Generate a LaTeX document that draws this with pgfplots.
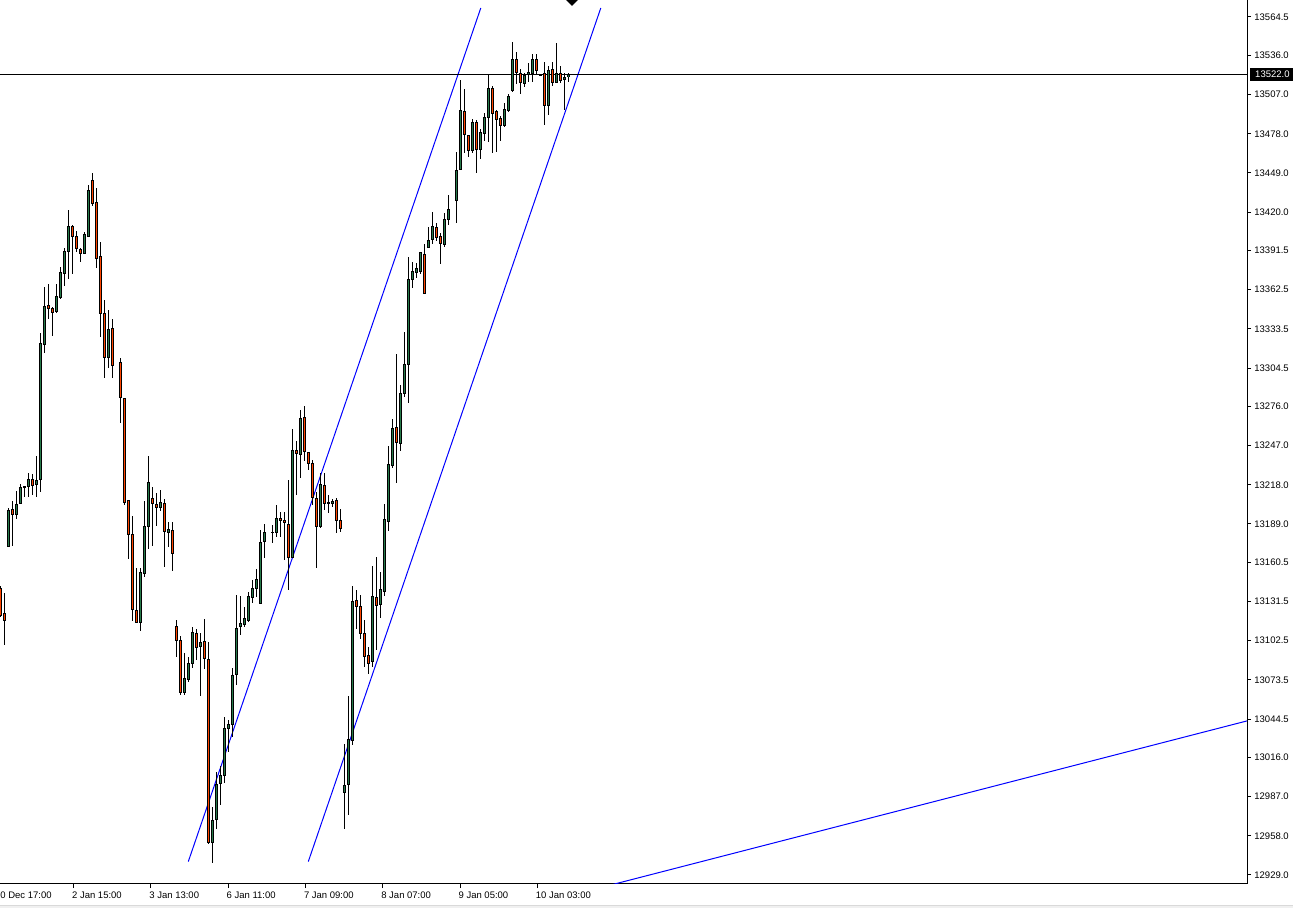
\documentclass[border=0pt]{standalone}
\usepackage{pgfplots}
\pgfplotsset{compat=1.18}
\usepackage{pgfplotstable}
\usepackage{fontspec}
\setmainfont{Liberation Sans}
\definecolor{bull}{RGB}{38,122,74}
\definecolor{bear}{RGB}{255,69,0}
\pgfplotstableread{
i o h l c
0 13141.4 13143.1 13120.2 13121.6
1 13122.4 13137.7 13099.4 13117.4
2 13172.2 13200.7 13172.2 13198.7
3 13199.4 13206.3 13172.7 13196.2
4 13196.2 13213.5 13192.5 13203.8
5 13204.4 13218.6 13204.4 13216.2
6 13215.9 13217.2 13209.2 13216.6
7 13217.2 13226.6 13208.8 13222.3
8 13222.1 13226.1 13210.3 13217.4
9 13218.4 13239.6 13208.8 13221.6
10 13222.1 13330.7 13213.0 13322.9
11 13322.1 13364.8 13315.5 13350.5
12 13350.5 13366.8 13340.6 13348.8
13 13349.0 13350.0 13328.5 13345.8
14 13346.3 13366.8 13345.1 13357.9
15 13356.9 13379.6 13355.9 13375.7
16 13374.7 13393.2 13365.5 13390.5
17 13390.7 13421.6 13370.3 13409.7
18 13409.0 13410.5 13373.9 13402.1
19 13402.3 13406.0 13390.7 13393.2
20 13392.7 13393.2 13382.8 13389.5
21 13389.5 13405.3 13388.8 13403.1
22 13402.1 13440.1 13402.1 13436.4
23 13443.8 13449.2 13424.5 13426.5
24 13427.5 13437.9 13378.8 13385.8
25 13386.8 13397.9 13327.3 13345.1
26 13344.6 13354.9 13297.4 13312.5
27 13312.5 13347.5 13304.3 13333.2
28 13334.0 13340.9 13297.4 13306.6
30 13308.8 13311.7 13264.1 13282.9
31 13282.1 13282.1 13202.9 13205.1
32 13206.1 13206.1 13162.9 13181.4
33 13181.4 13195.0 13117.4 13125.9
34 13125.3 13156.2 13116.2 13116.2
35 13116.2 13156.2 13110.0 13153.3
36 13152.5 13206.1 13150.0 13187.5
37 13187.0 13239.4 13170.3 13220.1
38 13208.1 13216.6 13173.0 13204.4
39 13203.6 13212.2 13187.8 13201.4
40 13201.4 13214.2 13198.9 13205.1
41 13204.6 13207.3 13157.0 13183.8
42 13182.9 13190.3 13172.2 13184.6
43 13184.6 13190.3 13154.4 13167.3
44 13113.5 13117.9 13090.8 13103.1
45 13103.1 13106.1 13062.4 13064.4
46 13064.4 13093.3 13062.4 13074.8
47 13074.0 13090.8 13071.8 13085.9
48 13085.9 13112.7 13082.2 13108.8
49 13108.1 13111.0 13088.3 13097.7
50 13098.2 13108.1 13061.9 13101.4
51 13101.9 13118.5 13081.9 13089.6
52 13088.8 13101.4 12952.0 12953.3
53 12953.3 12979.7 12938.2 12969.3
54 12970.3 13005.1 12963.4 12995.7
55 12997.0 13009.8 12980.9 13002.6
56 13002.6 13045.9 12997.4 13037.7
57 13037.7 13043.9 13020.4 13040.7
58 13040.2 13082.6 13031.5 13077.2
59 13077.7 13136.4 13069.8 13111.8
60 13113.0 13135.9 13106.8 13115.5
61 13114.7 13127.3 13112.5 13119.2
62 13117.9 13138.9 13116.7 13135.7
63 13134.7 13147.6 13130.3 13141.4
64 13141.4 13155.5 13135.2 13147.6
65 13130.3 13184.6 13130.3 13175.5
66 13175.9 13188.8 13164.1 13182.9
68 13182.9 13188.3 13174.7 13182.9
69 13182.9 13203.1 13179.6 13193.3
70 13193.3 13197.7 13179.6 13191.8
71 13191.8 13197.7 13162.4 13190.3
72 13188.3 13221.6 13140.2 13164.4
73 13164.4 13259.2 13164.4 13243.1
74 13243.1 13250.5 13210.5 13241.4
75 13240.7 13273.5 13223.3 13267.3
76 13268.1 13276.4 13235.7 13242.6
77 13242.1 13242.6 13229.0 13234.0
78 13234.0 13236.4 13203.1 13208.5
79 13208.1 13212.7 13156.7 13187.0
80 13187.0 13226.8 13186.1 13217.9
81 13217.9 13227.0 13199.4 13204.4
82 13204.4 13210.5 13197.4 13205.1
83 13204.4 13207.5 13201.8 13206.1
84 13206.1 13208.1 13182.6 13191.5
85 13192.0 13199.9 13183.3 13185.8
86 12990.3 13026.1 12962.9 12995.7
87 12996.3 13061.6 12973.5 13029.1
88 13029.1 13143.1 13025.4 13132.0
89 13132.7 13140.2 13111.0 13127.8
90 13128.3 13136.4 13103.6 13108.1
91 13108.1 13117.9 13082.9 13090.8
92 13091.3 13098.2 13077.7 13085.9
93 13087.1 13157.9 13082.9 13135.2
94 13134.7 13164.8 13095.7 13128.7
95 13129.6 13153.7 13119.2 13140.2
96 13138.9 13203.8 13135.9 13192.0
97 13190.7 13246.8 13184.1 13233.2
98 13232.7 13266.8 13230.3 13259.9
99 13260.6 13314.9 13219.6 13249.5
100 13248.8 13292.0 13243.3 13285.8
101 13285.8 13331.0 13282.9 13307.5
102 13307.3 13386.5 13278.4 13370.5
103 13370.3 13383.3 13364.0 13376.4
104 13375.4 13382.5 13371.4 13377.9
105 13375.9 13390.3 13374.0 13390.3
106 13389.0 13396.2 13359.9 13359.9
107 13394.0 13408.8 13393.2 13398.6
108 13399.4 13420.3 13396.2 13409.7
109 13408.8 13411.7 13398.8 13401.4
110 13401.8 13404.3 13381.4 13396.9
111 13396.4 13419.1 13394.0 13414.7
112 13414.7 13432.7 13410.5 13422.1
114 13428.5 13464.8 13411.7 13451.2
115 13451.2 13517.9 13451.2 13495.6
116 13494.9 13511.0 13464.0 13477.9
117 13477.1 13477.1 13461.1 13465.5
118 13466.0 13488.8 13464.0 13486.5
119 13486.5 13488.2 13448.8 13466.5
120 13466.5 13481.3 13459.1 13478.8
121 13477.9 13493.6 13472.9 13490.2
122 13490.2 13521.6 13472.2 13511.7
123 13511.7 13513.4 13464.0 13493.2
124 13494.9 13495.6 13464.5 13488.8
125 13489.0 13491.2 13472.7 13484.0
126 13483.8 13500.6 13483.3 13496.2
127 13495.1 13507.5 13494.4 13506.0
128 13509.9 13546.2 13509.2 13532.7
129 13532.7 13538.8 13514.7 13523.6
130 13522.8 13525.8 13507.3 13516.2
131 13515.4 13523.3 13512.5 13521.6
132 13522.3 13530.2 13516.6 13523.3
133 13522.8 13537.1 13516.6 13533.2
134 13533.2 13537.1 13521.6 13524.7
135 13522.0 13522.0 13522.0 13522.0
136 13522.8 13531.0 13484.5 13498.8
137 13498.8 13528.2 13491.9 13524.7
138 13525.8 13531.0 13513.4 13516.2
139 13516.2 13545.0 13515.4 13522.8
140 13522.8 13528.2 13515.4 13517.3
141 13518.4 13523.3 13495.6 13519.9
142 13520.3 13523.3 13516.6 13522.0
}\candles
\newcommand{\tkfont}{\fontsize{4.75}{5.5}\selectfont}
\begin{document}
\begin{tikzpicture}
\useasboundingbox (0,-12pt) rectangle (646.5pt,442pt);
\fill[black!6] (0,-12pt) rectangle (646.5pt,-10.6pt);
\draw[black!15, line width=0.4pt] (0,-10.6pt) -- (646.5pt,-10.6pt);
\begin{axis}[
  at={(0,0)}, anchor=south west,
  scale only axis, width=623.5pt, height=442pt,
  xmin=0, xmax=1247, ymin=12922.3, ymax=13577.1,
  axis x line=bottom, axis y line=right,
  axis line style={-, black, line width=0.5pt},
  tick align=outside, major tick length=2pt,
  tick style={black, line width=0.5pt},
  minor tick num=0,
  scaled x ticks=false, scaled y ticks=false,
  clip mode=individual,
  xtick={73.5,150.8,228.1,305.4,382.7,460,537.3},
  xticklabels={2 Jan 15:00,3 Jan 13:00,6 Jan 11:00,7 Jan 09:00,8 Jan 07:00,9 Jan 05:00,10 Jan 03:00},
  ytick={12929,12958,12987,13016,13044.5,13073.5,13102.5,13131.5,13160.5,13189,13218,13247,13276,13304.5,13333.5,13362.5,13391.5,13420,13449,13478,13507,13536,13564.5},
  yticklabels={12929.0,12958.0,12987.0,13016.0,13044.5,13073.5,13102.5,13131.5,13160.5,13189.0,13218.0,13247.0,13276.0,13304.5,13333.5,13362.5,13391.5,13420.0,13449.0,13478.0,13507.0,13536.0,13564.5},
  ticklabel style={font=\tkfont},
  xticklabel style={anchor=north west, inner sep=0pt, xshift=-0.9pt, yshift=-1.5pt},
  yticklabel style={anchor=west, inner sep=0pt, xshift=1.5pt},
]
% trend lines
\addplot[blue, line width=0.5pt] coordinates {(188.3,12938.9) (480.8,13571.2)};
\addplot[blue, line width=0.5pt] coordinates {(308.3,12938.9) (600.8,13571.2)};
\addplot[blue, line width=0.5pt] coordinates {(580,12915.7) (1247,13043.1)};
% current price line
\addplot[black, line width=0.5pt] coordinates {(0,13522) (1247,13522)};
% wicks
\addplot[draw=none, no markers, forget plot, error bars/.cd, y dir=both, y explicit, error mark=none,
  error bar style={draw=black, line width=0.5pt}]
  table[x expr={4*\thisrow{i}+0.3}, y expr={(\thisrow{h}+\thisrow{l})/2}, y error expr={(\thisrow{h}-\thisrow{l})/2}] {\candles};
% body outlines
\addplot[draw=none, no markers, forget plot, error bars/.cd, y dir=both, y explicit, error mark=none,
  error bar style={draw=black, line width=1.6pt}]
  table[x expr={4*\thisrow{i}+0.3}, y expr={(\thisrow{o}+\thisrow{c})/2}, y error expr={abs(\thisrow{c}-\thisrow{o})/2+0.37}] {\candles};
% bull fill
\addplot[draw=none, no markers, forget plot, restrict expr to domain={\thisrow{c}-\thisrow{o}}{0:10000},
  error bars/.cd, y dir=both, y explicit, error mark=none,
  error bar style={draw=bull, line width=0.7pt}]
  table[x expr={4*\thisrow{i}+0.3}, y expr={(\thisrow{o}+\thisrow{c})/2}, y error expr={max(abs(\thisrow{c}-\thisrow{o})/2-0.37,0)}] {\candles};
% bear fill
\addplot[draw=none, no markers, forget plot, restrict expr to domain={\thisrow{c}-\thisrow{o}}{-10000:-0.01},
  error bars/.cd, y dir=both, y explicit, error mark=none,
  error bar style={draw=bear, line width=0.7pt}]
  table[x expr={4*\thisrow{i}+0.3}, y expr={(\thisrow{o}+\thisrow{c})/2}, y error expr={max(abs(\thisrow{c}-\thisrow{o})/2-0.37,0)}] {\candles};
% arrow object at top
\addplot[fill=black, draw=none] coordinates {(565.5,13577.5) (572,13572.7) (578.5,13577.5) (572,13582.3)} -- cycle;
\node[anchor=north west, font=\tkfont, inner sep=0pt, yshift=-3.8pt, xshift=-1pt] at (axis cs:-3.3,12922.3) {30 Dec 17:00};
\node[anchor=west, fill=black, text=white, font=\tkfont, inner xsep=2.4pt, inner ysep=0pt, minimum height=6.5pt, text width=16.3pt] at (axis cs:1250,13522) {13522.0};
\end{axis}
\end{tikzpicture}
\end{document}
